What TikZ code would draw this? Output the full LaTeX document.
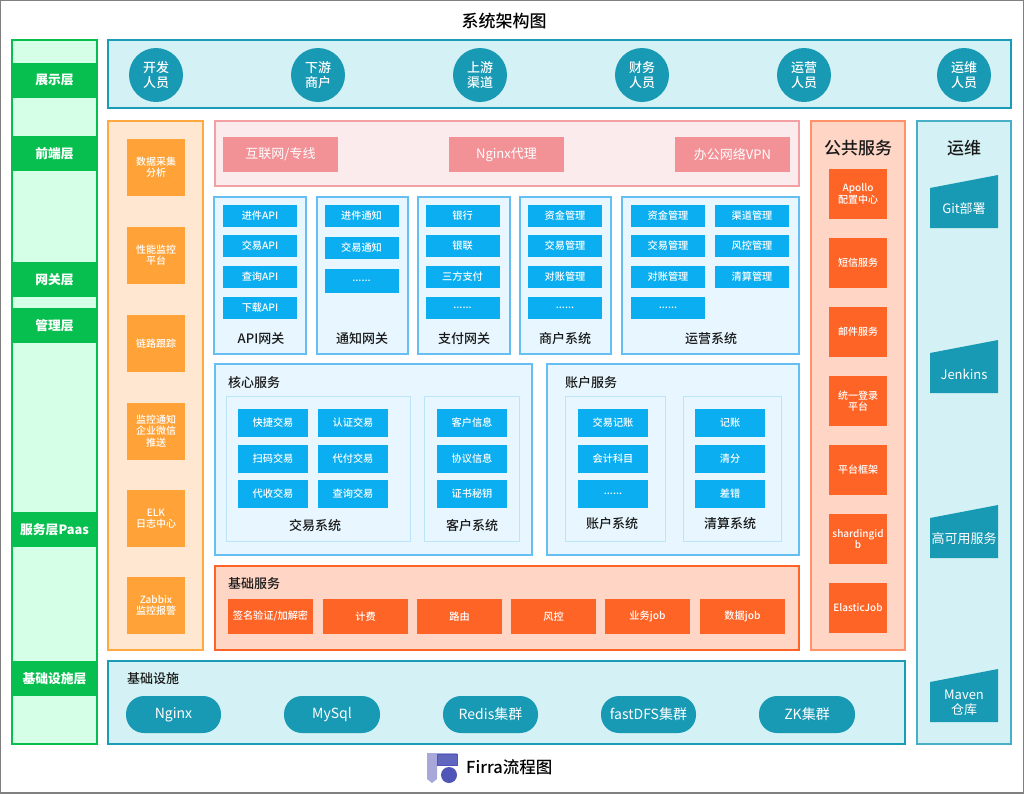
\documentclass[tikz,border=0pt]{standalone}
\usepackage{fontspec}
\setmainfont{Noto Sans CJK SC}
\newfontface\mediumface{Noto Sans CJK SC Medium}
\definecolor{greenfill}{HTML}{D5FFE6}
\definecolor{greenband}{HTML}{07BF4F}
\definecolor{tealfill}{HTML}{D4F2F5}
\definecolor{tealline}{HTML}{1A9BB8}
\definecolor{tealbox}{HTML}{1899B4}
\definecolor{orangefill}{HTML}{FFE7D1}
\definecolor{orangeline}{HTML}{FFA940}
\definecolor{orangebox}{HTML}{FFA237}
\definecolor{redfill}{HTML}{FCEBEC}
\definecolor{redline}{HTML}{F2A0A3}
\definecolor{redbox}{HTML}{F29297}
\definecolor{bluefill}{HTML}{E8F7FF}
\definecolor{blueline}{HTML}{66BFF2}
\definecolor{bluebox}{HTML}{0BAEF0}
\definecolor{subline}{HTML}{BDE5FA}
\definecolor{deepfill}{HTML}{FFD5C5}
\definecolor{deepbox}{HTML}{FF6427}
\definecolor{logolight}{HTML}{A8A7DA}
\definecolor{logodark}{HTML}{5055B8}
\newcommand{\px}[1]{\fontsize{#1}{\the\dimexpr#1pt*112/100\relax}\selectfont}
\newcommand{\opsbox}[3]{
    \fill[tealbox] (930,#1-20) -- (998,#1-33) -- (998,#1+20) -- (930,#1+20) -- cycle;
    \node[shape=rectangle, text=white, align=center, font=\px{13}] at (964,#1+1) (#2) {#3};
}
\tikzset{
    box/.style={shape=rectangle, inner sep=0pt, align=center, text=white},
    panel/.style={shape=rectangle, inner sep=0pt, line width=1.1pt},
    caption/.style={inner sep=0pt, yshift=-1pt, align=center, text=black!90, font=\px{13}\mediumface},
    band/.style={box, fill=greenband, minimum width=85, minimum height=35, font=\px{12.8}\bfseries},
    person/.style={box, shape=circle, fill=tealbox, minimum size=54, font=\px{13}\mediumface},
    monitor/.style={box, fill=orangebox, minimum width=58, minimum height=57, font=\px{10}\mediumface},
    entry/.style={box, fill=redbox, minimum width=115, minimum height=35, font=\px{13}},
    item/.style={box, fill=bluebox, minimum width=74, minimum height=22, font=\px{10.2}\mediumface},
    trade/.style={box, fill=bluebox, minimum width=70, minimum height=28, font=\px{10.2}\mediumface},
    basic/.style={box, fill=deepbox, minimum width=85, minimum height=35, font=\px{10.2}\mediumface},
    common/.style={box, fill=deepbox, minimum width=58, minimum height=50, font=\px{10}\mediumface},
    pill/.style={box, fill=tealbox, rounded corners=18pt, minimum height=37, font=\px{14}},
    bluepanel/.style={panel, fill=bluefill, draw=blueline},
    subpanel/.style={panel, line width=0.7pt, draw=subline}
}

\begin{document}
\begin{tikzpicture}[x=1pt, y=-1pt]
    \useasboundingbox (0,0) rectangle (1024,793);
    \node[panel, draw=black!50, line width=2pt, minimum width=1024, minimum height=793] at (512,396.5) (Frame) {};
    \node[inner sep=0pt, font=\px{17}\mediumface] at (504,21) (Title) {系统架构图};

    % layer column
    \node[panel, fill=greenfill, draw=greenband, minimum width=85, minimum height=704] at (54.5,392) (Layers) {};
    \node[band] at (54.5,80) (L0) {展示层};
    \node[band] at (54.5,153.5) (L1) {前端层};
    \node[band] at (54.5,279.5) (L2) {网关层};
    \node[band] at (54.5,325.5) (L3) {管理层};
    \node[band] at (54.5,529.5) (L4) {服务层Paas};
    \node[band] at (54.5,678.5) (L5) {基础设施层};

    % users
    \node[panel, fill=tealfill, draw=tealline, minimum width=903, minimum height=68] at (559.5,74) (Users) {};
    \node[person] at (156,75) (U0) {开发\\人员};
    \node[person] at (318,75) (U1) {下游\\商户};
    \node[person] at (480,75) (U2) {上游\\渠道};
    \node[person] at (642,75) (U3) {财务\\人员};
    \node[person] at (804,75) (U4) {运营\\人员};
    \node[person] at (964,75) (U5) {运维\\人员};

    % monitoring
    \node[panel, fill=orangefill, draw=orangeline, minimum width=95, minimum height=529] at (155.5,385.5) (Monitor) {};
    \node[monitor] at (156,167.5) (M0) {数据采集\\分析};
    \node[monitor] at (156,255.5) (M1) {性能监控\\平台};
    \node[monitor] at (156,343.5) (M2) {链路跟踪};
    \node[monitor] at (156,431) (M3) {监控通知\\企业微信\\推送};
    \node[monitor] at (156,518.5) (M4) {ELK\\日志中心};
    \node[monitor] at (156,605.5) (M5) {Zabbix\\监控报警};

    % network entry
    \node[panel, fill=redfill, draw=redline, minimum width=584, minimum height=65] at (507,153.5) (Entry) {};
    \node[entry] at (280.5,154.5) (E0) {互联网/专线};
    \node[entry] at (506.5,154.5) (E1) {Nginx代理};
    \node[entry] at (732.5,154.5) (E2) {办公网络VPN};

    % gateways
    \node[bluepanel, minimum width=92, minimum height=157] at (260,275.5) (Api) {};
    \node[item] at (260,216) (A0) {进件API};
    \node[item] at (260,246) (A1) {交易API};
    \node[item] at (260,276.5) (A2) {查询API};
    \node[item] at (260,307.5) (A3) {下载API};
    \node[caption] at (261,338) (ApiText) {API网关};

    \node[bluepanel, minimum width=91, minimum height=157] at (362.5,275.5) (Notify) {};
    \node[item] at (361.5,216) (N0) {进件通知};
    \node[item] at (361.5,248) (N1) {交易通知};
    \node[item, minimum height=24] at (361.5,281) (N2) {......};
    \node[caption] at (362,338) (NotifyText) {通知网关};

    \node[bluepanel, minimum width=92, minimum height=157] at (464,275.5) (Pay) {};
    \node[item] at (462.5,216) (P0) {银行};
    \node[item] at (462.5,246) (P1) {银联};
    \node[item] at (462.5,276.5) (P2) {三方支付};
    \node[item] at (462.5,307.5) (P3) {......};
    \node[caption] at (464,338) (PayText) {支付网关};

    \node[bluepanel, minimum width=91, minimum height=157] at (565.5,275.5) (Shop) {};
    \node[item] at (565,216) (S0) {资金管理};
    \node[item] at (565,246) (S1) {交易管理};
    \node[item] at (565,276.5) (S2) {对账管理};
    \node[item] at (565,307.5) (S3) {......};
    \node[caption] at (565,338) (ShopText) {商户系统};

    \node[bluepanel, minimum width=177, minimum height=157] at (710.5,275.5) (Oper) {};
    \node[item] at (668,216) (O0) {资金管理};
    \node[item] at (668,246) (O1) {交易管理};
    \node[item] at (668,276.5) (O2) {对账管理};
    \node[item] at (668,307.5) (O3) {......};
    \node[item] at (752,216) (O4) {渠道管理};
    \node[item] at (752,246) (O5) {风控管理};
    \node[item] at (752,276.5) (O6) {清算管理};
    \node[caption] at (711,338) (OperText) {运营系统};

    % core services
    \node[bluepanel, minimum width=317, minimum height=191] at (373.5,459.5) (Core) {};
    \node[caption] at (254,382) (CoreText) {核心服务};
    \node[subpanel, minimum width=184, minimum height=145] at (318,468.5) (Trade) {};
    \node[subpanel, minimum width=95, minimum height=145] at (471.5,468.5) (Cust) {};
    \node[trade] at (273,423) (T0) {快捷交易};
    \node[trade] at (273,459) (T1) {扫码交易};
    \node[trade] at (273,494) (T2) {代收交易};
    \node[trade] at (353,423) (T3) {认证交易};
    \node[trade] at (353,459) (T4) {代付交易};
    \node[trade] at (353,494) (T5) {查询交易};
    \node[caption] at (315,525) (TradeText) {交易系统};
    \node[trade] at (472,423) (C0) {客户信息};
    \node[trade] at (472,459) (C1) {协议信息};
    \node[trade] at (472,494) (C2) {证书秘钥};
    \node[caption] at (472,525) (CustText) {客户系统};

    % account services
    \node[bluepanel, minimum width=252, minimum height=191] at (673,459.5) (Acct) {};
    \node[caption] at (591,382) (AcctText) {账户服务};
    \node[subpanel, minimum width=100, minimum height=145] at (615,468.5) (Book) {};
    \node[subpanel, minimum width=98, minimum height=145] at (732,468.5) (Clear) {};
    \node[trade] at (613,423) (B0) {交易记账};
    \node[trade] at (613,459) (B1) {会计科目};
    \node[trade] at (613,494) (B2) {......};
    \node[caption] at (612,523) (BookText) {账户系统};
    \node[trade] at (730,423) (K0) {记账};
    \node[trade] at (730,459) (K1) {清分};
    \node[trade] at (730,494) (K2) {差错};
    \node[caption] at (730,523) (ClearText) {清算系统};

    % basic services
    \node[panel, fill=deepfill, draw=deepbox, minimum width=584, minimum height=84] at (507,608) (Basic) {};
    \node[caption] at (254,583) (BasicText) {基础服务};
    \node[basic] at (270.5,616.5) (H0) {签名验证/加解密};
    \node[basic] at (365.5,616.5) (H1) {计费};
    \node[basic] at (459.5,616.5) (H2) {路由};
    \node[basic] at (553.5,616.5) (H3) {风控};
    \node[basic] at (647.5,616.5) (H4) {业务job};
    \node[basic] at (742.5,616.5) (H5) {数据job};

    % public services
    \node[panel, fill=deepfill, draw=deepbox!70!white, minimum width=94, minimum height=529] at (858,385.5) (Public) {};
    \node[caption, font=\px{17}\mediumface] at (858,147) (PublicText) {公共服务};
    \node[common] at (858,194) (G0) {Apollo\\配置中心};
    \node[common] at (858,263) (G1) {短信服务};
    \node[common] at (858,332) (G2) {邮件服务};
    \node[common] at (858,401) (G3) {统一登录\\平台};
    \node[common] at (858,470) (G4) {平台框架};
    \node[common] at (858,539) (G5) {shardingid\\b};
    \node[common] at (858,608) (G6) {ElasticJob};

    % operations
    \node[panel, fill=tealfill, draw=tealline!80!white, minimum width=94, minimum height=623] at (964,432.5) (Ops) {};
    \node[caption, font=\px{17}\mediumface] at (964,147) (OpsText) {运维};
    \opsbox{208}{R0}{Git部署}
    \opsbox{373}{R1}{Jenkins}
    \opsbox{538}{R2}{高可用服务}
    \opsbox{702}{R3}{Maven\\仓库}

    % infrastructure
    \node[panel, fill=tealfill, draw=tealline, minimum width=797, minimum height=83] at (506.5,702.5) (Infra) {};
    \node[caption] at (153,678) (InfraText) {基础设施};
    \node[pill, minimum width=95] at (173.5,714.5) (I0) {Nginx};
    \node[pill, minimum width=96] at (332,714.5) (I1) {MySql};
    \node[pill, minimum width=95] at (490.5,714.5) (I2) {Redis集群};
    \node[pill, minimum width=95] at (648.5,714.5) (I3) {fastDFS集群};
    \node[pill, minimum width=96] at (807,714.5) (I4) {ZK集群};

    % logo
    \fill[logolight] (427,753) -- (437,753) -- (437,779) -- (432,783) -- (427,779) -- cycle;
    \fill[logolight] (437,753) rectangle (457,765);
    \draw[fill=logodark!90!white, draw=logodark] (437.5,754) rectangle (457,765);
    \fill[logodark] (449,775) circle (8);
    \node[anchor=west, inner sep=0pt, font=\px{16.5}\mediumface] at (466,767) (Logo) {Firra流程图};
\end{tikzpicture}
\end{document}
